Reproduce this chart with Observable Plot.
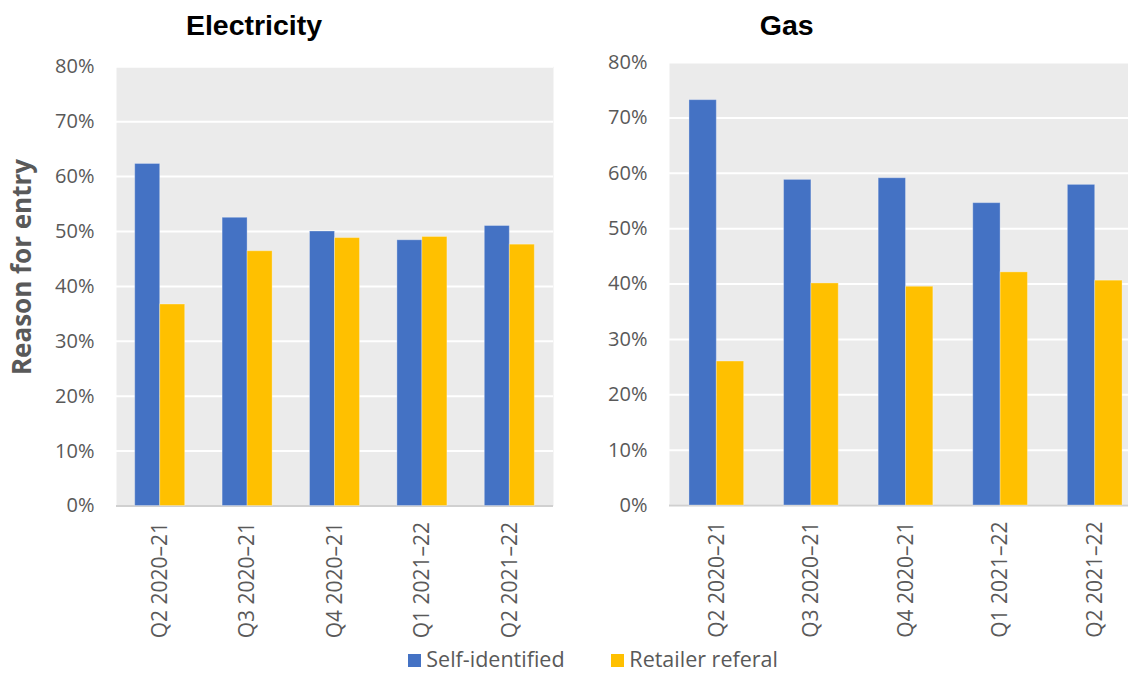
<!DOCTYPE html>
<html>
<head>
<meta charset="utf-8">
<script src="https://cdn.jsdelivr.net/npm/d3@7"></script>
<script src="https://cdn.jsdelivr.net/npm/@observablehq/plot@0.6"></script>
<style>
  html, body { margin: 0; padding: 0; background: #fff; overflow: hidden; }
  #root { position: relative; width: 1128px; height: 674px; overflow: hidden; font-family: "Open Sans", sans-serif; }
  .panel { position: absolute; top: 0; }
  .panel svg { max-width: none !important; display: block; }
  .title { position: absolute; top: 10.5px; transform: translateX(-50%); font-family: "Liberation Sans", Arial, sans-serif; font-weight: bold; font-size: 28.5px; line-height: 29px; color: #000; white-space: nowrap; }
  .ytitle { position: absolute; left: 20.6px; top: 267.3px; transform: translate(-50%, -50%) rotate(-90deg); font-family: "Open Sans", sans-serif; font-weight: bold; font-size: 26px; line-height: 26px; color: #595959; white-space: nowrap; }
  .legend { position: absolute; left: 408px; top: 649px; display: flex; align-items: baseline; gap: 46.5px; font-family: "Open Sans", sans-serif; font-size: 21.5px; line-height: 20px; color: #595959; }
  .item { display: flex; align-items: baseline; gap: 5.3px; }
  .sw { display: inline-block; width: 13px; height: 13px; }
</style>
</head>
<body>
<div id="root"></div>
<script>
// ---- data ----
const quarters = ["Q2 2020–21", "Q3 2020–21", "Q4 2020–21", "Q1 2021–22", "Q2 2021–22"];
const seriesNames = ["Self-identified", "Retailer referal"];
const seriesColors = ["#4472C4", "#FFC000"];
const elecSelf = [0.623, 0.525, 0.500, 0.484, 0.510];
const elecRetail = [0.367, 0.464, 0.488, 0.490, 0.476];
const gasSelf = [0.732, 0.588, 0.591, 0.546, 0.579];
const gasRetail = [0.260, 0.401, 0.395, 0.421, 0.406];
const yTicks = [0, 0.1, 0.2, 0.3, 0.4, 0.5, 0.6, 0.7, 0.8];
const panelTitles = ["Electricity", "Gas"];
const yTitle = "Reason for entry";

const root = document.getElementById("root");

function makePanel(selfV, retailV, cfg) {
  const rows = quarters.flatMap((q, i) => [
    {quarter: q, series: seriesNames[0], value: selfV[i]},
    {quarter: q, series: seriesNames[1], value: retailV[i]}
  ]);
  const plotW = cfg.width - cfg.marginLeft - cfg.marginRight;
  const step = plotW / quarters.length;
  const bw = step * (1 - cfg.padding);
  const plot = Plot.plot({
    width: cfg.width,
    height: cfg.height,
    marginLeft: cfg.marginLeft,
    marginRight: cfg.marginRight,
    marginTop: cfg.marginTop,
    marginBottom: cfg.marginBottom,
    style: {fontFamily: "Open Sans, sans-serif", fontSize: "20px", color: "#595959", background: "transparent", overflow: "visible", maxWidth: "none"},
    x: {domain: quarters, paddingInner: cfg.padding, paddingOuter: cfg.padding / 2, round: false, label: null},
    y: {domain: [0, 0.8], label: null},
    marks: [
      Plot.frame({fill: "#EBEBEB", stroke: null}),
      Plot.gridY(yTicks, {stroke: "white", strokeOpacity: 1, strokeWidth: 2}),
      Plot.ruleY([0], {stroke: "#D0D0D0", strokeWidth: 2}),
      Plot.barY(rows.filter(d => d.series === seriesNames[0]), {x: "quarter", y: "value", fill: seriesColors[0], stroke: "white", strokeOpacity: 0.3, strokeWidth: 1, dx: -bw / 2}),
      Plot.barY(rows.filter(d => d.series === seriesNames[1]), {x: "quarter", y: "value", fill: seriesColors[1], stroke: "white", strokeOpacity: 0.3, strokeWidth: 1, dx: bw / 2}),
      Plot.axisY(yTicks, {tickFormat: d3.format(".0%"), tickSize: 0, tickPadding: 22, fontSize: 20, label: null}),
      Plot.axisX({tickRotate: -90, tickSize: 0, tickPadding: 16, fontSize: 21, label: null})
    ]
  });
  const wrap = document.createElement("div");
  wrap.className = "panel";
  wrap.style.left = cfg.left + "px";
  wrap.style.width = cfg.width + "px";
  wrap.style.height = cfg.height + "px";
  wrap.appendChild(plot);
  root.appendChild(wrap);
}

makePanel(elecSelf, elecRetail, {left: 0, width: 560, height: 674, marginLeft: 116, marginRight: 7, marginTop: 66.3, marginBottom: 168.5, padding: 0.714});
makePanel(gasSelf, gasRetail, {left: 560, width: 582, height: 674, marginLeft: 109, marginRight: 0, marginTop: 62, marginBottom: 169, padding: 0.711});

// titles
[[panelTitles[0], 254], [panelTitles[1], 786.7]].forEach(([t, cx]) => {
  const d = document.createElement("div");
  d.className = "title";
  d.style.left = cx + "px";
  d.textContent = t;
  root.appendChild(d);
});

const yt = document.createElement("div");
yt.className = "ytitle";
yt.textContent = yTitle;
root.appendChild(yt);

// legend
const lg = document.createElement("div");
lg.className = "legend";
seriesNames.forEach((n, i) => {
  const it = document.createElement("div");
  it.className = "item";
  const sw = document.createElement("span");
  sw.className = "sw";
  sw.style.background = seriesColors[i];
  const tx = document.createElement("span");
  tx.textContent = n;
  it.appendChild(sw);
  it.appendChild(tx);
  lg.appendChild(it);
});
root.appendChild(lg);
</script>
</body>
</html>
